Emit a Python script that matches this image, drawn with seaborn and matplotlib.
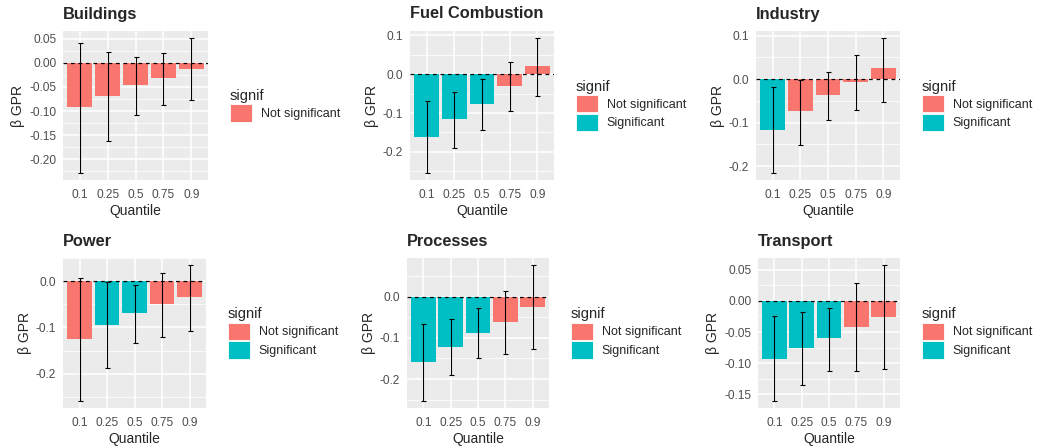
import numpy as np
import pandas as pd
import matplotlib
matplotlib.use("Agg")
import matplotlib.pyplot as plt
from matplotlib.patches import Patch
from matplotlib.ticker import MultipleLocator, FormatStrFormatter
import seaborn as sns

quantiles = ["0.1", "0.25", "0.5", "0.75", "0.9"]
NS, S = "Not significant", "Significant"

buildings_beta = [-0.092, -0.069, -0.046, -0.031, -0.012]
buildings_low = [-0.229, -0.162, -0.108, -0.088, -0.078]
buildings_high = [0.042, 0.023, 0.012, 0.021, 0.052]
buildings_signif = [NS, NS, NS, NS, NS]

fuel_beta = [-0.161, -0.116, -0.077, -0.031, 0.020]
fuel_low = [-0.255, -0.189, -0.144, -0.095, -0.056]
fuel_high = [-0.069, -0.047, -0.013, 0.032, 0.094]
fuel_signif = [S, S, S, NS, NS]

industry_beta = [-0.116, -0.074, -0.037, -0.006, 0.025]
industry_low = [-0.216, -0.151, -0.094, -0.070, -0.052]
industry_high = [-0.018, -0.001, 0.017, 0.055, 0.095]
industry_signif = [S, NS, NS, NS, NS]

power_beta = [-0.126, -0.094, -0.068, -0.050, -0.034]
power_low = [-0.260, -0.187, -0.134, -0.120, -0.107]
power_high = [0.007, -0.001, -0.007, 0.018, 0.036]
power_signif = [NS, S, S, NS, NS]

processes_beta = [-0.158, -0.121, -0.088, -0.061, -0.024]
processes_low = [-0.254, -0.190, -0.150, -0.140, -0.127]
processes_high = [-0.065, -0.053, -0.028, 0.014, 0.078]
processes_signif = [S, S, S, NS, NS]

transport_beta = [-0.093, -0.075, -0.060, -0.042, -0.026]
transport_low = [-0.161, -0.135, -0.112, -0.113, -0.109]
transport_high = [-0.025, -0.018, -0.011, 0.029, 0.058]
transport_signif = [S, S, S, NS, NS]

palette = {NS: "#F8766D", S: "#00BFC4"}

sns.set_style("darkgrid", {"axes.facecolor": "#EBEBEB", "grid.color": "white",
                           "axes.edgecolor": "none"})
plt.rcParams["font.family"] = ["Liberation Sans", "DejaVu Sans"]

W, H = 1037, 448
fig = plt.figure(figsize=(W / 100, H / 100), dpi=100)


def panel(box, title, beta, low, high, signif, step, fmt):
    x0, y0, x1, y1 = box
    ax = fig.add_axes([x0 / W, 1 - y1 / H, (x1 - x0) / W, (y1 - y0) / H])
    df = pd.DataFrame({"Quantile": quantiles, "beta": beta, "low": low,
                       "high": high, "signif": signif})
    present = [k for k in [NS, S] if k in signif]
    sns.barplot(data=df, x="Quantile", y="beta", hue="signif", hue_order=present,
                palette=palette, order=quantiles, dodge=False, width=0.9,
                legend=False, linewidth=0, saturation=1, ax=ax)
    ax.axhline(0, color="black", lw=0.9, dashes=(3, 3))
    pos = np.arange(len(quantiles))
    b = np.array(beta)
    ax.errorbar(pos, b, yerr=[b - np.array(low), np.array(high) - b], fmt="none",
                ecolor="black", elinewidth=0.8, capsize=1.8, capthick=0.8)
    lo = min(min(low), min(beta), 0)
    hi = max(max(high), max(beta), 0)
    pad = (hi - lo) * 0.05
    ax.set_ylim(lo - pad, hi + pad)
    ax.set_xlim(-0.6, 4.6)
    ax.yaxis.set_major_locator(MultipleLocator(step))
    ax.yaxis.set_minor_locator(MultipleLocator(step / 2))
    ax.yaxis.set_major_formatter(FormatStrFormatter(fmt))
    ax.grid(which="major", color="white", lw=1.1)
    ax.grid(which="minor", axis="y", color="white", lw=0.55)
    ax.set_axisbelow(True)
    ax.tick_params(axis="both", which="major", length=2.8, width=0.8, color="#333333",
                   labelsize=8.6, labelcolor="#4D4D4D", pad=2)
    ax.tick_params(axis="x", which="major", pad=4)
    ax.tick_params(axis="both", which="minor", length=0)
    ax.set_xlabel("Quantile", fontsize=10, labelpad=2)
    ax.set_ylabel("β GPR", fontsize=10, labelpad=3)
    ax.set_title(title, loc="left", fontsize=11.8, fontweight="bold", pad=9)
    handles = [Patch(facecolor=palette[k], edgecolor="white", lw=0.6, label=k)
               for k in present]
    fig.legend(handles=handles, title="signif", loc="center left",
               bbox_to_anchor=((x1 + 22) / W, 1 - (y0 + y1) / 2 / H),
               frameon=False, fontsize=9, title_fontsize=10.5, handlelength=1.75,
               handleheight=1.75, labelspacing=0.1, handletextpad=0.7,
               borderpad=0, borderaxespad=0, alignment="left")


panel((63, 31, 208, 180), "Buildings", buildings_beta, buildings_low, buildings_high,
      buildings_signif, 0.05, "%.2f")
panel((410, 31, 554, 180), "Fuel Combustion", fuel_beta, fuel_low, fuel_high,
      fuel_signif, 0.1, "%.1f")
panel((756, 31, 900, 180), "Industry", industry_beta, industry_low, industry_high,
      industry_signif, 0.1, "%.1f")
panel((63, 258, 206, 408), "Power", power_beta, power_low, power_high,
      power_signif, 0.1, "%.1f")
panel((407, 258, 549, 408), "Processes", processes_beta, processes_low, processes_high,
      processes_signif, 0.1, "%.1f")
panel((758, 258, 900, 408), "Transport", transport_beta, transport_low, transport_high,
      transport_signif, 0.05, "%.2f")

fig.savefig("out.png", dpi=100)
